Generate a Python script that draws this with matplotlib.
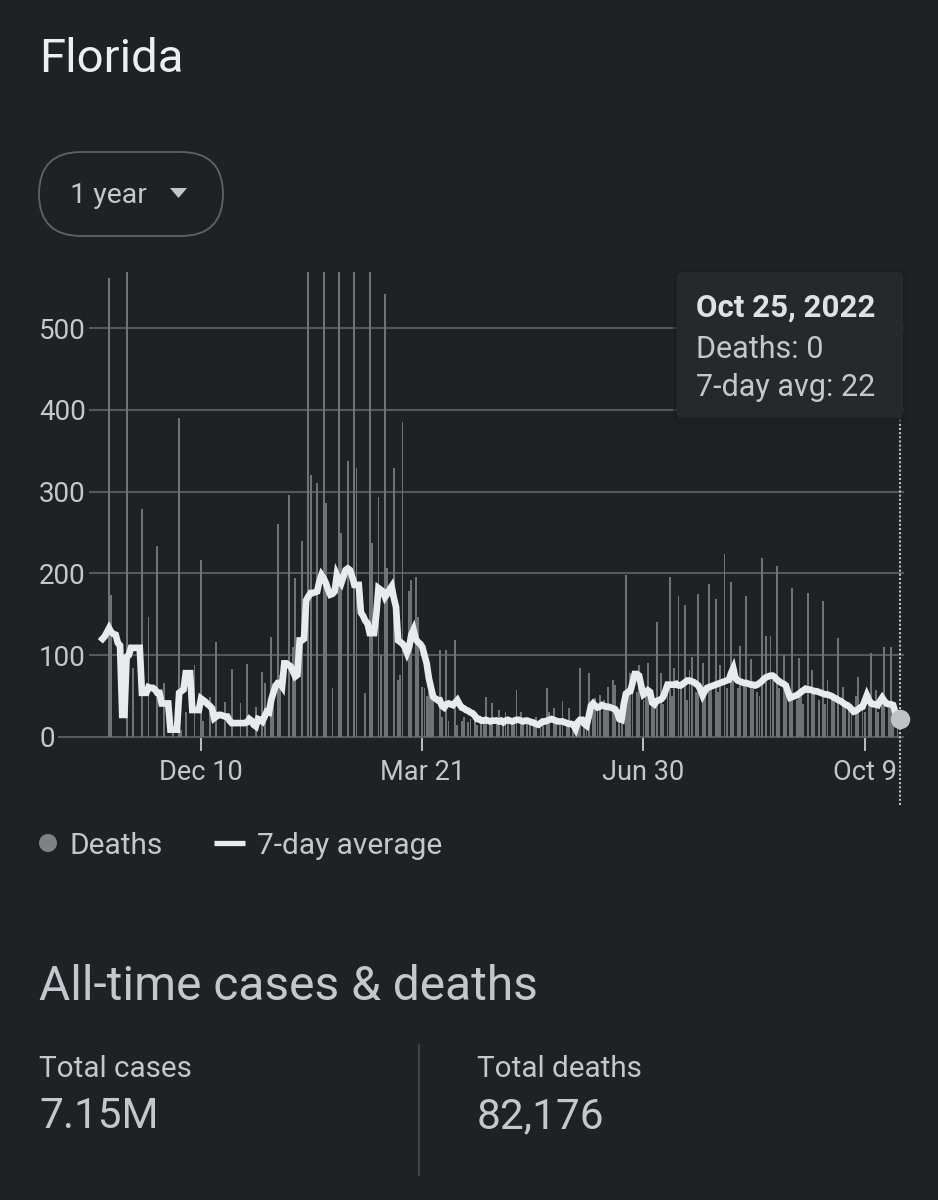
import matplotlib
matplotlib.use("Agg")
import matplotlib.pyplot as plt
import matplotlib.dates as mdates
import matplotlib.transforms as mtransforms
from matplotlib.patches import FancyBboxPatch, Circle, Polygon
import pandas as pd

plt.rcParams['font.family'] = ['Roboto', 'DejaVu Sans']

# ---------------- data ----------------
title = "Florida"
range_label = "1 year"
start_date = "2021-10-26"

deaths = [
    0, 0, 0, 561, 174, 0, 0, 0, 0, 0,
    0, 600, 0, 0, 84, 0, 0, 0, 279, 0,
    0, 147, 0, 0, 0, 234, 0, 0, 66, 0,
    0, 0, 10, 0, 0, 390, 9, 0, 30, 0,
    0, 0, 88, 0, 0, 216, 19, 0, 0, 49,
    0, 0, 116, 0, 0, 0, 43, 0, 0, 83,
    0, 0, 0, 42, 0, 0, 89, 0, 0, 0,
    37, 0, 0, 80, 66, 0, 0, 122, 66, 0,
    261, 76, 0, 0, 0, 296, 0, 110, 194, 0,
    0, 239, 0, 0, 600, 320, 0, 0, 310, 0,
    0, 600, 286, 0, 0, 60, 0, 0, 600, 249,
    0, 0, 338, 0, 0, 600, 329, 0, 0, 0,
    54, 0, 600, 237, 0, 0, 293, 100, 0, 542,
    207, 0, 0, 329, 0, 70, 76, 385, 0, 0,
    178, 192, 0, 196, 147, 0, 61, 60, 50, 55,
    50, 61, 0, 0, 106, 25, 0, 106, 20, 0,
    0, 118, 15, 0, 20, 25, 0, 18, 22, 0,
    20, 15, 0, 18, 22, 49, 0, 20, 41, 0,
    25, 33, 0, 18, 30, 20, 0, 15, 22, 57,
    0, 30, 18, 0, 20, 15, 0, 22, 25, 0,
    18, 20, 0, 60, 30, 0, 35, 20, 0, 15,
    44, 0, 20, 35, 0, 15, 0, 20, 84, 0,
    25, 30, 78, 0, 35, 48, 40, 51, 0, 45,
    40, 61, 0, 70, 64, 0, 20, 40, 0, 198,
    50, 78, 60, 0, 55, 88, 0, 45, 50, 91,
    0, 40, 35, 140, 0, 78, 40, 0, 55, 196,
    50, 84, 0, 172, 60, 0, 161, 45, 82, 98,
    0, 55, 175, 0, 90, 50, 0, 187, 60, 0,
    169, 55, 88, 0, 224, 60, 0, 189, 70, 0,
    60, 111, 0, 65, 172, 0, 95, 60, 0, 55,
    50, 219, 0, 123, 0, 123, 70, 0, 209, 60,
    0, 100, 55, 0, 50, 182, 0, 45, 97, 60,
    40, 0, 176, 0, 82, 55, 0, 45, 0, 166,
    40, 70, 0, 50, 45, 0, 121, 0, 61, 40,
    0, 35, 30, 0, 50, 73, 0, 40, 30, 0,
    45, 103, 0, 57, 30, 0, 40, 110, 0, 35,
    110, 30, 0, 20, 0,
]

avg7 = [
    120, 123, 128, 133, 128, 126, 125, 115, 112, 27,
    27, 98, 100, 109, 109, 109, 109, 109, 54, 54,
    54, 61, 60, 60, 58, 54, 54, 41, 41, 41,
    41, 9, 9, 9, 9, 54, 56, 58, 78, 78,
    78, 33, 33, 33, 33, 47, 45, 43, 40, 38,
    35, 23, 25, 27, 27, 26, 25, 25, 20, 17,
    17, 17, 17, 17, 17, 17, 18, 22, 20, 15,
    13, 22, 21, 19, 25, 31, 30, 45, 54, 62,
    66, 66, 62, 90, 90, 88, 86, 80, 74, 76,
    118, 118, 120, 167, 172, 176, 176, 177, 178, 190,
    198, 194, 188, 180, 174, 175, 178, 198, 192, 188,
    196, 204, 206, 204, 196, 186, 186, 186, 152, 148,
    142, 139, 127, 127, 127, 150, 182, 180, 178, 171,
    175, 180, 184, 170, 159, 118, 116, 114, 110, 103,
    110, 125, 131, 120, 116, 114, 110, 100, 90, 72,
    60, 49, 47, 45, 45, 38, 36, 40, 41, 40,
    39, 42, 45, 40, 36, 35, 33, 32, 30, 29,
    26, 22, 22, 20, 20, 21, 20, 19, 20, 20,
    20, 19, 20, 18, 20, 21, 20, 19, 20, 21,
    21, 20, 19, 20, 20, 19, 18, 17, 16, 15,
    17, 19, 19, 20, 21, 22, 21, 20, 19, 19,
    19, 18, 17, 16, 16, 15, 10, 18, 21, 21,
    16, 14, 25, 38, 41, 38, 36, 37, 39, 38,
    37, 37, 36, 35, 34, 30, 22, 21, 40, 53,
    55, 56, 66, 77, 77, 75, 62, 52, 54, 57,
    55, 42, 40, 44, 45, 46, 49, 56, 64, 64,
    64, 64, 65, 63, 63, 65, 67, 69, 69, 68,
    67, 65, 63, 58, 51, 56, 60, 61, 62, 63,
    64, 65, 66, 67, 68, 69, 70, 78, 84, 72,
    69, 68, 67, 66, 66, 65, 64, 64, 63, 64,
    66, 68, 71, 73, 74, 75, 75, 73, 70, 68,
    66, 65, 63, 55, 48, 49, 50, 51, 53, 55,
    57, 59, 58, 58, 57, 56, 56, 55, 54, 53,
    52, 52, 51, 50, 48, 47, 45, 44, 42, 40,
    39, 37, 34, 31, 32, 34, 36, 37, 44, 51,
    45, 41, 40, 40, 39, 44, 48, 44, 41, 40,
    40, 39, 30, 26, 22,
]

y_ticks = [0, 100, 200, 300, 400, 500]
x_tick_dates = ["2021-12-10", "2022-03-21", "2022-06-30", "2022-10-09"]
x_tick_labels = ["Dec 10", "Mar 21", "Jun 30", "Oct 9"]

legend_labels = ["Deaths", "7-day average"]
tooltip_title = "Oct 25, 2022"
tooltip_lines = ["Deaths: 0", "7-day avg: 22"]

section_title = "All-time cases & deaths"
stat_labels = ["Total cases", "Total deaths"]
stat_values = ["7.15M", "82,176"]

# ---------------- style ----------------
BG = "#202124"
GRID = "#55585c"
BAR = "#707276"
LINE = "#e8eaed"
TXT = "#c4c7cc"
TITLE = "#eceef1"

W, H = 938, 1200
fig = plt.figure(figsize=(W / 100, H / 100), dpi=100, facecolor=BG)

# main chart axes (pixel box: x 39..903, y 272..745)
ax = fig.add_axes([39 / W, 1 - 745 / H, 864 / W, 473 / H])
ax.axis("off")

dates = pd.date_range(start_date, periods=len(deaths), freq="D")
xd = mdates.date2num(dates)

ax.bar(xd, deaths, width=0.85, color=BAR, linewidth=0, zorder=2)
ax.plot(xd, avg7, color=LINE, lw=4.8, zorder=3, solid_joinstyle="miter")

ax.set_xlim(xd[0] - 29, xd[0] + 365.5)
ax.set_ylim(-9.78, 568.46)

ytrans = mtransforms.blended_transform_factory(ax.transAxes, ax.transData)
for v in y_ticks:
    ax.axhline(v, color=GRID, lw=1.5, zorder=1, clip_on=False)
    ax.text(0, v, str(v), transform=ytrans, ha="left", va="center_baseline",
            fontsize=20, color=TXT, zorder=1.5,
            bbox=dict(facecolor=BG, edgecolor="none", pad=2.2))

xtrans = mtransforms.blended_transform_factory(ax.transData, ax.transAxes)
for d, lab in zip(x_tick_dates, x_tick_labels):
    xv = mdates.date2num(pd.Timestamp(d))
    ax.plot([xv, xv], [0.0127, -0.0106], transform=xtrans, color="#bdc1c6",
            lw=1.4, clip_on=False, zorder=2)
    ax.text(xv, -0.051, lab, transform=xtrans, ha="center", va="center_baseline",
            fontsize=19.5, color=TXT)

# hover indicator
ax.plot([xd[-1], xd[-1]], [-0.127, 0.691], transform=xtrans, color="#bdc1c6",
        lw=1.5, linestyle=(0, (1, 1)), clip_on=False, zorder=4)
ax.plot([xd[-1]], [avg7[-1]], "o", ms=14, color="#c0c2c6", mec="none",
        clip_on=False, zorder=5)

# overlay in pixel coordinates for the UI chrome
ov = fig.add_axes([0, 0, 1, 1], zorder=5)
ov.set_xlim(0, W)
ov.set_ylim(H, 0)
ov.axis("off")

ov.text(39, 72, title, fontsize=34, color=TITLE, va="baseline", ha="left")

pill = FancyBboxPatch((39, 152), 184, 84, boxstyle="round,pad=0,rounding_size=42",
                      facecolor="none", edgecolor="#5f6368", lw=1.3)
ov.add_patch(pill)
ov.text(70, 203, range_label, fontsize=20.5, color=TXT, va="baseline", ha="left")
ov.add_patch(Polygon([(170, 188), (187, 188), (178.5, 198)], closed=True,
                     facecolor="#c4c7cc", edgecolor="none"))

# tooltip
shadow = FancyBboxPatch((673, 270), 234, 154, boxstyle="round,pad=0,rounding_size=8",
                        facecolor="#1b1c1e", edgecolor="none", alpha=0.6)
ov.add_patch(shadow)
tip = FancyBboxPatch((677, 272), 226, 146, boxstyle="round,pad=0,rounding_size=5",
                     facecolor="#27282b", edgecolor="none")
ov.add_patch(tip)
ov.text(696, 317, tooltip_title, fontsize=22.5, fontweight="bold", color="#dfe1e5",
        va="baseline", ha="left")
ov.text(696, 358, tooltip_lines[0], fontsize=22, color=TXT, va="baseline", ha="left")
ov.text(696, 396, tooltip_lines[1], fontsize=22, color=TXT, va="baseline", ha="left")

# legend
ov.add_patch(Circle((48, 843), 9, facecolor="#7f8185", edgecolor="none"))
ov.text(70, 843, legend_labels[0], fontsize=21.5, color=TXT, va="center_baseline", ha="left")
ov.plot([214, 245], [843, 843], color=LINE, lw=3.8, solid_capstyle="butt")
ov.text(257, 843, legend_labels[1], fontsize=21.5, color=TXT, va="center_baseline", ha="left")

# all-time section
ov.text(39, 1000, section_title, fontsize=34.5, color=TXT, va="baseline", ha="left")
ov.text(39, 1077, stat_labels[0], fontsize=21.3, color=TXT, va="baseline", ha="left")
ov.text(39, 1128, stat_values[0], fontsize=30.5, color=TXT, va="baseline", ha="left")
ov.plot([419, 419], [1045, 1175], color="#4a4c50", lw=1.2)
ov.text(477, 1077, stat_labels[1], fontsize=21.3, color=TXT, va="baseline", ha="left")
ov.text(477, 1128, stat_values[1], fontsize=30.5, color=TXT, va="baseline", ha="left")

fig.savefig("out.png", dpi=100, facecolor=BG)
